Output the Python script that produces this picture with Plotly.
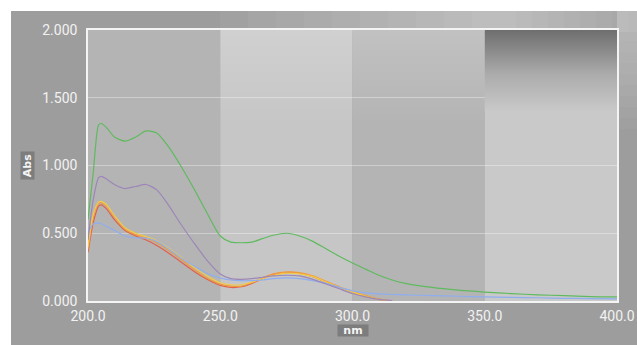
import plotly.graph_objects as go

# ---------------- data ----------------
nm = [200, 202, 204, 205, 207, 210, 214, 218, 222, 226, 230, 235, 240, 245, 250,
      254, 258, 262, 266, 270, 275, 280, 285, 290, 295, 300, 305, 310, 315, 320,
      330, 340, 350, 360, 370, 380, 390, 400]

green = [0.60, 0.95, 1.30, 1.31, 1.28, 1.21, 1.18, 1.21, 1.255, 1.24, 1.15, 1.00, 0.83, 0.65, 0.48,
         0.435, 0.43, 0.435, 0.46, 0.485, 0.50, 0.48, 0.44, 0.385, 0.33, 0.28, 0.235, 0.19, 0.155, 0.13,
         0.10, 0.08, 0.066, 0.055, 0.045, 0.04, 0.033, 0.03]

purple = [0.45, 0.75, 0.91, 0.92, 0.90, 0.86, 0.83, 0.845, 0.86, 0.82, 0.72, 0.57, 0.43, 0.30, 0.20,
          0.165, 0.16, 0.165, 0.175, 0.185, 0.19, 0.185, 0.16, 0.125, 0.09, 0.055, 0.03, 0.012, 0.003]

blue = [0.50, 0.57, 0.575, 0.57, 0.55, 0.52, 0.48, 0.465, 0.465, 0.44, 0.39, 0.32, 0.26, 0.205, 0.17,
        0.155, 0.15, 0.15, 0.155, 0.165, 0.17, 0.165, 0.15, 0.13, 0.10, 0.075, 0.06, 0.052, 0.048, 0.045,
        0.04, 0.035, 0.03, 0.027, 0.024, 0.02, 0.018, 0.015]

red = [0.36, 0.58, 0.70, 0.71, 0.68, 0.60, 0.52, 0.48, 0.45, 0.41, 0.36, 0.29, 0.22, 0.16, 0.115,
       0.10, 0.105, 0.13, 0.165, 0.195, 0.21, 0.205, 0.18, 0.14, 0.10, 0.065, 0.035, 0.012, 0.0]

orange = [0.38, 0.62, 0.72, 0.725, 0.70, 0.62, 0.53, 0.49, 0.465, 0.43, 0.38, 0.31, 0.235, 0.17, 0.125,
          0.11, 0.11, 0.135, 0.17, 0.20, 0.215, 0.21, 0.185, 0.145, 0.105, 0.07, 0.04, 0.015, 0.002]

yellow = [0.40, 0.64, 0.73, 0.735, 0.71, 0.63, 0.54, 0.50, 0.475, 0.445, 0.395, 0.325, 0.25, 0.185, 0.135,
          0.12, 0.12, 0.14, 0.165, 0.19, 0.205, 0.20, 0.18, 0.14, 0.10, 0.065, 0.035, 0.012, 0.0]

band_edges = [200, 250, 300, 350, 400]
y_ticks = [0.0, 0.5, 1.0, 1.5, 2.0]
x_ticks = [200, 250, 300, 350, 400]

# ---------------- layout geometry ----------------
W, H = 637, 345
ML, MR, MT, MB = 88, 20, 30, 44
PW, PH = W - ML - MR, H - MT - MB


def px(x):
    return (x - ML) / PW


def py(y):
    return (H - MB - y) / PH


series = [
    (red, "#e0604a"),
    (orange, "#f09a40"),
    (yellow, "#f2cc45"),
    (blue, "#8eaef0"),
    (purple, "#9d86b8"),
    (green, "#5fba5f"),
]

fig = go.Figure()

# gradient decorations inside the plot area
fig.add_trace(go.Scatter(
    x=[band_edges[3], band_edges[4], band_edges[4], band_edges[3], band_edges[3]],
    y=[1.40, 1.40, 2.0, 2.0, 1.40],
    mode="none", fill="toself", hoverinfo="skip", showlegend=False,
    fillgradient=dict(type="vertical",
                      colorscale=[[0, "rgba(201,201,201,1)"], [0.45, "rgba(172,172,172,1)"],
                                  [1, "rgba(110,110,110,1)"]]),
))
fig.add_trace(go.Scatter(
    x=[band_edges[1], band_edges[3], band_edges[3], band_edges[1], band_edges[1]],
    y=[1.30, 1.30, 2.0, 2.0, 1.30],
    mode="none", fill="toself", hoverinfo="skip", showlegend=False,
    fillgradient=dict(type="vertical",
                      colorscale=[[0, "rgba(255,255,255,0)"], [1, "rgba(255,255,255,0.18)"]]),
))

for vals, col in series:
    fig.add_trace(go.Scatter(
        x=nm[:len(vals)], y=vals, mode="lines",
        line=dict(color=col, width=1.2, shape="spline", smoothing=0.7),
        hoverinfo="skip", showlegend=False,
    ))

shapes = []
# outer gray panel
shapes.append(dict(type="rect", xref="paper", yref="paper", layer="below",
                   x0=px(11), x1=px(W + 2), y0=py(H + 2), y1=py(11),
                   fillcolor="#9d9d9d", line=dict(width=0)))
# lighter top strip gradient
for i in range(10):
    shapes.append(dict(type="rect", xref="paper", yref="paper", layer="below",
                       x0=px(500 - (i + 1) * 28), x1=px(min(W + 2, 500 + (i + 1) * 16)),
                       y0=py(MT + 2), y1=py(11),
                       fillcolor="white", opacity=0.045, line=dict(width=0)))
# lighter right strip gradient
for i in range(9):
    shapes.append(dict(type="rect", xref="paper", yref="paper", layer="below",
                       x0=px(ML + PW), x1=px(W + 2),
                       y0=py(30 + (i + 1) * 11), y1=py(11),
                       fillcolor="white", opacity=0.035, line=dict(width=0)))
# alternating bands
band_cols = ["#b4b4b4", "#c6c6c6", "#b4b4b4", "#c9c9c9"]
for i in range(4):
    shapes.append(dict(type="rect", xref="x", yref="paper", layer="below",
                       x0=band_edges[i], x1=band_edges[i + 1], y0=0, y1=1,
                       fillcolor=band_cols[i], line=dict(width=0)))

fig.update_layout(
    width=W, height=H,
    autosize=False,
    margin=dict(l=ML, r=MR, t=MT, b=MB, autoexpand=False),
    paper_bgcolor="white", plot_bgcolor="rgba(0,0,0,0)",
    shapes=shapes,
    showlegend=False,
    font=dict(family="Roboto", size=14, color="#f2f2f2"),
    xaxis=dict(range=[200, 400], tickvals=x_ticks, ticktext=[f"{v:.1f}" for v in x_ticks],
               showgrid=False, zeroline=False, showline=True, linecolor="#f4f4f4",
               linewidth=1.6, mirror=True, ticks="", ticklabelstandoff=1, automargin=False,
               tickfont=dict(family="Roboto", size=14, color="#f2f2f2")),
    yaxis=dict(range=[0, 2.0], tickvals=y_ticks, ticktext=[f"{v:.3f}" for v in y_ticks],
               showgrid=True, gridcolor="rgba(255,255,255,0.35)", gridwidth=1,
               zeroline=False, showline=True, linecolor="#f4f4f4", linewidth=1.6,
               mirror=True, ticks="", ticklabelstandoff=6, automargin=False,
               tickfont=dict(family="Roboto", size=14, color="#f2f2f2")),
    annotations=[
        dict(text="<b>nm</b>", xref="x", yref="paper", x=300, y=py(330),
             xanchor="center", yanchor="middle", width=30, height=11,
             showarrow=False, bgcolor="#7d7d7d", borderpad=0,
             font=dict(family="DejaVu Sans", size=11, color="#f4f4f4")),
        dict(text="<b>Abs</b>", xref="paper", yref="paper", x=px(27), y=py(166),
             xanchor="center", yanchor="middle", width=27, height=13,
             textangle=-90, showarrow=False, bgcolor="#7d7d7d", borderpad=0,
             font=dict(family="DejaVu Sans", size=11, color="#f4f4f4")),
    ],
)

fig.write_html(
    "out.html",
    config={"displayModeBar": False},
    post_script="document.body.style.margin='0';document.body.style.overflow='hidden';",
)
